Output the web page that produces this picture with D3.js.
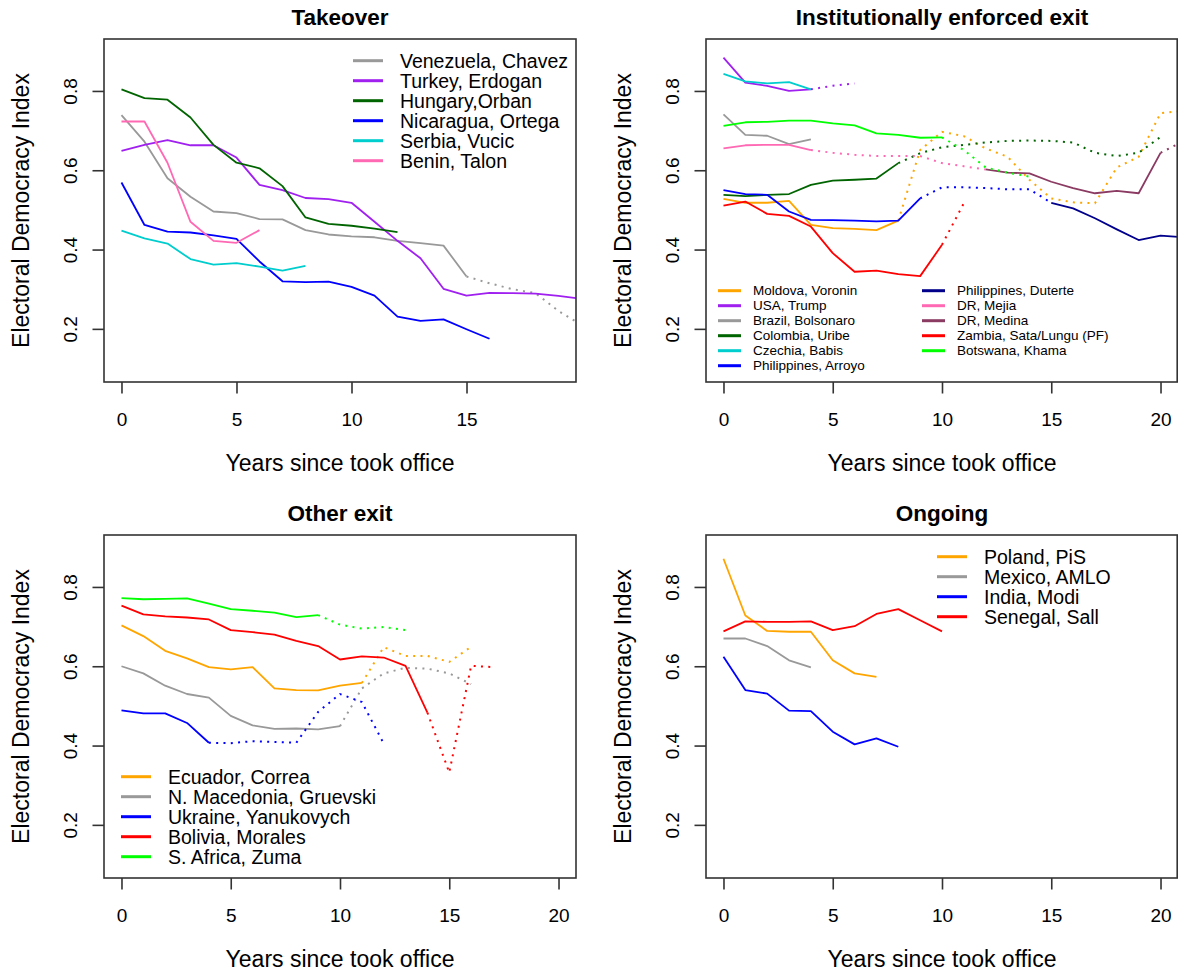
<!DOCTYPE html>
<html><head><meta charset="utf-8">
<script src="https://cdn.jsdelivr.net/npm/d3@7"></script>
<style>
body{margin:0;background:#fff}
svg text{font-family:"Liberation Sans",Arial,Helvetica,sans-serif;fill:#000}
</style>
</head><body>
<svg id="chart" width="1178" height="972"></svg>
<script>
// ---------------- DATA ----------------
const panelTitles = ["Takeover", "Institutionally enforced exit", "Other exit", "Ongoing"];
const xTicksTakeover = [0, 5, 10, 15];
const xTicksOther = [0, 5, 10, 15, 20];
const yTicks = [0.2, 0.4, 0.6, 0.8];
const xAxisTitle = "Years since took office";
const yAxisTitle = "Electoral Democracy Index";

// Takeover
const takeoverLabels = ["Venezuela, Chavez", "Turkey, Erdogan", "Hungary,Orban", "Nicaragua, Ortega", "Serbia, Vucic", "Benin, Talon"];
const takeoverColors = ["#999999", "#A020F0", "#006400", "#0000FF", "#00CDCD", "#FF69B4"];
const takeoverStart = [0, 0, 0, 0, 0, 0];
const takeoverSolidEnd = [15, 20, 12, 16, 8, 6];
const venezuelaChavez = [0.739, 0.672, 0.580, 0.533, 0.496, 0.492, 0.477, 0.476, 0.449, 0.438, 0.433, 0.431, 0.422, 0.416, 0.410, 0.332, 0.315, 0.300, 0.290, 0.245, 0.210];
const turkeyErdogan = [0.649, 0.664, 0.676, 0.663, 0.663, 0.632, 0.563, 0.550, 0.530, 0.527, 0.518, 0.470, 0.422, 0.378, 0.301, 0.284, 0.291, 0.290, 0.289, 0.283, 0.276];
const hungaryOrban = [0.804, 0.782, 0.778, 0.733, 0.664, 0.619, 0.605, 0.560, 0.481, 0.465, 0.460, 0.453, 0.444];
const nicaraguaOrtega = [0.569, 0.462, 0.445, 0.443, 0.436, 0.427, 0.370, 0.320, 0.318, 0.319, 0.306, 0.284, 0.231, 0.220, 0.224, 0.199, 0.175];
const serbiaVucic = [0.448, 0.428, 0.415, 0.376, 0.362, 0.366, 0.357, 0.347, 0.359];
const beninTalon = [0.723, 0.723, 0.619, 0.470, 0.422, 0.417, 0.449];

// Institutionally enforced exit
const instLabels = ["Moldova, Voronin", "USA, Trump", "Brazil, Bolsonaro", "Colombia, Uribe", "Czechia, Babis", "Philippines, Arroyo",
                    "Philippines, Duterte", "DR, Mejia", "DR, Medina", "Zambia, Sata/Lungu (PF)", "Botswana, Khama"];
const instColors = ["#FFA500", "#A020F0", "#999999", "#006400", "#00CDCD", "#0000FF",
                    "#00008B", "#FF69B4", "#8B3A62", "#FF0000", "#00FF00"];
const instStart = [0, 0, 0, 0, 0, 0, 15, 0, 12, 0, 0];
const instSolidEnd = [8, 4, 4, 8, 4, 9, 21, 4, 20, 10, 10];
const moldovaVoronin = [0.528, 0.518, 0.518, 0.523, 0.462, 0.454, 0.452, 0.449, 0.473, 0.651, 0.697, 0.686, 0.655, 0.634, 0.576, 0.529, 0.519, 0.517, 0.607, 0.634, 0.744, 0.750];
const usaTrump = [0.884, 0.821, 0.813, 0.800, 0.804, 0.813, 0.819];
const brazilBolsonaro = [0.741, 0.689, 0.687, 0.666, 0.678];
const colombiaUribe = [0.538, 0.535, 0.538, 0.540, 0.563, 0.574, 0.576, 0.579, 0.618, 0.643, 0.658, 0.664, 0.670, 0.674, 0.675, 0.674, 0.670, 0.644, 0.636, 0.644, 0.684];
const czechiaBabis = [0.843, 0.824, 0.819, 0.822, 0.804];
const philippinesArroyo = [0.550, 0.540, 0.538, 0.496, 0.475, 0.474, 0.473, 0.471, 0.473, 0.529, 0.557, 0.557, 0.555, 0.552, 0.552, 0.518];
const philippinesDuterte = [0.518, 0.504, 0.479, 0.451, 0.424, 0.435, 0.431];
const drMejia = [0.655, 0.663, 0.664, 0.664, 0.651, 0.644, 0.639, 0.636, 0.636, 0.636, 0.618, 0.610, 0.602];
const drMedina = [0.602, 0.594, 0.592, 0.571, 0.555, 0.542, 0.548, 0.542, 0.644, 0.672];
const zambiaPF = [0.511, 0.521, 0.490, 0.485, 0.458, 0.391, 0.344, 0.347, 0.338, 0.333, 0.412, 0.517];
const botswanaKhama = [0.712, 0.721, 0.722, 0.725, 0.725, 0.718, 0.713, 0.693, 0.689, 0.682, 0.683, 0.651, 0.607, 0.594, 0.584];

// Other exit
const otherLabels = ["Ecuador, Correa", "N. Macedonia, Gruevski", "Ukraine, Yanukovych", "Bolivia, Morales", "S. Africa, Zuma"];
const otherColors = ["#FFA500", "#999999", "#0000FF", "#FF0000", "#00FF00"];
const otherStart = [0, 0, 0, 0, 0];
const otherSolidEnd = [11, 10, 4, 14, 9];
const ecuadorCorrea = [0.703, 0.676, 0.639, 0.620, 0.598, 0.592, 0.598, 0.544, 0.540, 0.539, 0.551, 0.558, 0.648, 0.626, 0.626, 0.611, 0.649];
const macedoniaGruevski = [0.600, 0.582, 0.551, 0.530, 0.521, 0.475, 0.451, 0.442, 0.443, 0.441, 0.449, 0.544, 0.582, 0.596, 0.594, 0.582, 0.555];
const ukraineYanukovych = [0.489, 0.481, 0.481, 0.457, 0.407, 0.406, 0.411, 0.409, 0.407, 0.485, 0.530, 0.510, 0.405];
const boliviaMorales = [0.753, 0.731, 0.726, 0.723, 0.718, 0.691, 0.686, 0.680, 0.664, 0.651, 0.617, 0.625, 0.622, 0.601, 0.483, 0.332, 0.601, 0.598];
const southAfricaZuma = [0.772, 0.769, 0.770, 0.771, 0.758, 0.744, 0.740, 0.735, 0.724, 0.729, 0.705, 0.695, 0.699, 0.691];

// Ongoing
const ongoingLabels = ["Poland, PiS", "Mexico, AMLO", "India, Modi", "Senegal, Sall"];
const ongoingColors = ["#FFA500", "#999999", "#0000FF", "#FF0000"];
const ongoingStart = [0, 0, 0, 0];
const ongoingSolidEnd = [7, 4, 8, 10];
const polandPiS = [0.871, 0.728, 0.689, 0.687, 0.687, 0.615, 0.582, 0.573];
const mexicoAMLO = [0.670, 0.670, 0.651, 0.615, 0.597];
const indiaModi = [0.624, 0.540, 0.531, 0.488, 0.487, 0.435, 0.403, 0.418, 0.397];
const senegalSall = [0.688, 0.713, 0.712, 0.712, 0.713, 0.691, 0.701, 0.732, 0.744, 0.716, 0.688];

// ---------------- BUILD ----------------
function build(labels, colors, starts, solidEnds, valuesList) {
  return labels.map((lab, i) => ({
    label: lab, color: colors[i], solidEnd: solidEnds[i],
    pts: valuesList[i].map((v, k) => ({t: starts[i] + k, v}))
  }));
}
const panels = [
  {title: panelTitles[0], col: 0, row: 0, xDom: [-0.76, 19.76], xTicks: xTicksTakeover,
   series: build(takeoverLabels, takeoverColors, takeoverStart, takeoverSolidEnd,
     [venezuelaChavez, turkeyErdogan, hungaryOrban, nicaraguaOrtega, serbiaVucic, beninTalon]),
   legend: {cols: [[0, 6]], x: [249], y: 21.7, dy: 20, font: 19.5, lineLen: 30, gap: 17, lw: 3}},
  {title: panelTitles[1], col: 1, row: 0, xDom: [-0.8, 20.8], xTicks: xTicksOther,
   series: build(instLabels, instColors, instStart, instSolidEnd,
     [moldovaVoronin, usaTrump, brazilBolsonaro, colombiaUribe, czechiaBabis, philippinesArroyo,
      philippinesDuterte, drMejia, drMedina, zambiaPF, botswanaKhama]),
   legend: {cols: [[0, 6], [6, 11]], x: [12, 216], y: 251.7, dy: 15, font: 13.5, lineLen: 23, gap: 12, lw: 3}},
  {title: panelTitles[2], col: 0, row: 1, xDom: [-0.8, 20.8], xTicks: xTicksOther,
   series: build(otherLabels, otherColors, otherStart, otherSolidEnd,
     [ecuadorCorrea, macedoniaGruevski, ukraineYanukovych, boliviaMorales, southAfricaZuma]),
   legend: {cols: [[0, 5]], x: [17], y: 241.7, dy: 20, font: 19.5, lineLen: 30, gap: 17, lw: 3}},
  {title: panelTitles[3], col: 1, row: 1, xDom: [-0.8, 20.8], xTicks: xTicksOther,
   series: build(ongoingLabels, ongoingColors, ongoingStart, ongoingSolidEnd,
     [polandPiS, mexicoAMLO, indiaModi, senegalSall]),
   legend: {cols: [[0, 4]], x: [231], y: 21.7, dy: 20, font: 19.5, lineLen: 30, gap: 17, lw: 3}}
];

// ---------------- DRAW ----------------
const svg = d3.select("#chart");
const boxL = [104, 706], boxT = [39, 535], boxW = 472, boxH = 343;
const yDom = [0.066, 0.931];

panels.forEach((p, pi) => {
  const L = boxL[p.col], T = boxT[p.row];
  const x = d3.scaleLinear().domain(p.xDom).range([L, L + boxW]);
  const y = d3.scaleLinear().domain(yDom).range([T + boxH, T]);
  const g = svg.append("g");

  const clipId = "clip" + pi;
  svg.append("clipPath").attr("id", clipId).append("rect")
    .attr("x", L).attr("y", T).attr("width", boxW).attr("height", boxH);

  const line = d3.line().x(d => x(d.t)).y(d => y(d.v));
  const lines = g.append("g").attr("clip-path", `url(#${clipId})`);
  p.series.forEach(s => {
    const solid = s.pts.filter(d => d.t <= s.solidEnd);
    const dotted = s.pts.filter(d => d.t >= s.solidEnd);
    if (solid.length > 1)
      lines.append("path").attr("d", line(solid)).attr("fill", "none")
        .attr("stroke", s.color).attr("stroke-width", 1.8).attr("stroke-linejoin", "round");
    if (dotted.length > 1)
      lines.append("path").attr("d", line(dotted)).attr("fill", "none")
        .attr("stroke", s.color).attr("stroke-width", 2).attr("stroke-dasharray", "2,5.3");
  });

  // box
  g.append("rect").attr("x", L).attr("y", T).attr("width", boxW - (p.col === 1 ? 0.8 : 0)).attr("height", boxH)
    .attr("fill", "none").attr("stroke", "#333").attr("stroke-width", 1.6);

  // x axis
  const xa = g.append("g").attr("transform", `translate(0,${T + boxH})`)
    .call(d3.axisBottom(x).tickValues(p.xTicks).tickSize(11.5).tickPadding(19).tickFormat(d3.format("d")));
  xa.select(".domain").remove();
  xa.selectAll(".tick line").attr("stroke", "#333").attr("stroke-width", 1.6);
  xa.selectAll("text").attr("font-size", 19).attr("fill", "#000").style("font-family", "'Liberation Sans', Arial, sans-serif");

  // y axis
  const ya = g.append("g").attr("transform", `translate(${L},0)`)
    .call(d3.axisLeft(y).tickValues(yTicks).tickSize(11.5).tickFormat(d3.format(".1f")));
  ya.select(".domain").remove();
  ya.selectAll(".tick line").attr("stroke", "#333").attr("stroke-width", 1.6);
  ya.selectAll("text").attr("font-size", 19).attr("fill", "#000")
    .style("font-family", "'Liberation Sans', Arial, sans-serif")
    .attr("x", null).attr("dy", null).attr("text-anchor", "middle")
    .attr("transform", "translate(-27,0) rotate(-90)");

  // titles
  g.append("text").attr("x", L + boxW / 2).attr("y", T - 14).attr("text-anchor", "middle")
    .attr("font-size", 22.5).attr("font-weight", "bold").text(p.title);
  g.append("text").attr("x", L + boxW / 2).attr("y", T + boxH + 89).attr("text-anchor", "middle")
    .attr("font-size", 23).text(xAxisTitle);
  g.append("text").attr("transform", `translate(${L - 75},${T + boxH / 2}) rotate(-90)`)
    .attr("text-anchor", "middle").attr("font-size", 23).text(yAxisTitle);

  // legend
  const lg = p.legend;
  lg.cols.forEach((rng, ci) => {
    const lx = L + lg.x[ci];
    p.series.slice(rng[0], rng[1]).forEach((s, k) => {
      const ly = T + lg.y + k * lg.dy;
      g.append("line").attr("x1", lx).attr("x2", lx + lg.lineLen).attr("y1", ly).attr("y2", ly)
        .attr("stroke", s.color).attr("stroke-width", lg.lw);
      g.append("text").attr("x", lx + lg.lineLen + lg.gap).attr("y", ly + lg.font * 0.35)
        .attr("font-size", lg.font).text(s.label);
    });
  });
});
</script>
</body></html>
